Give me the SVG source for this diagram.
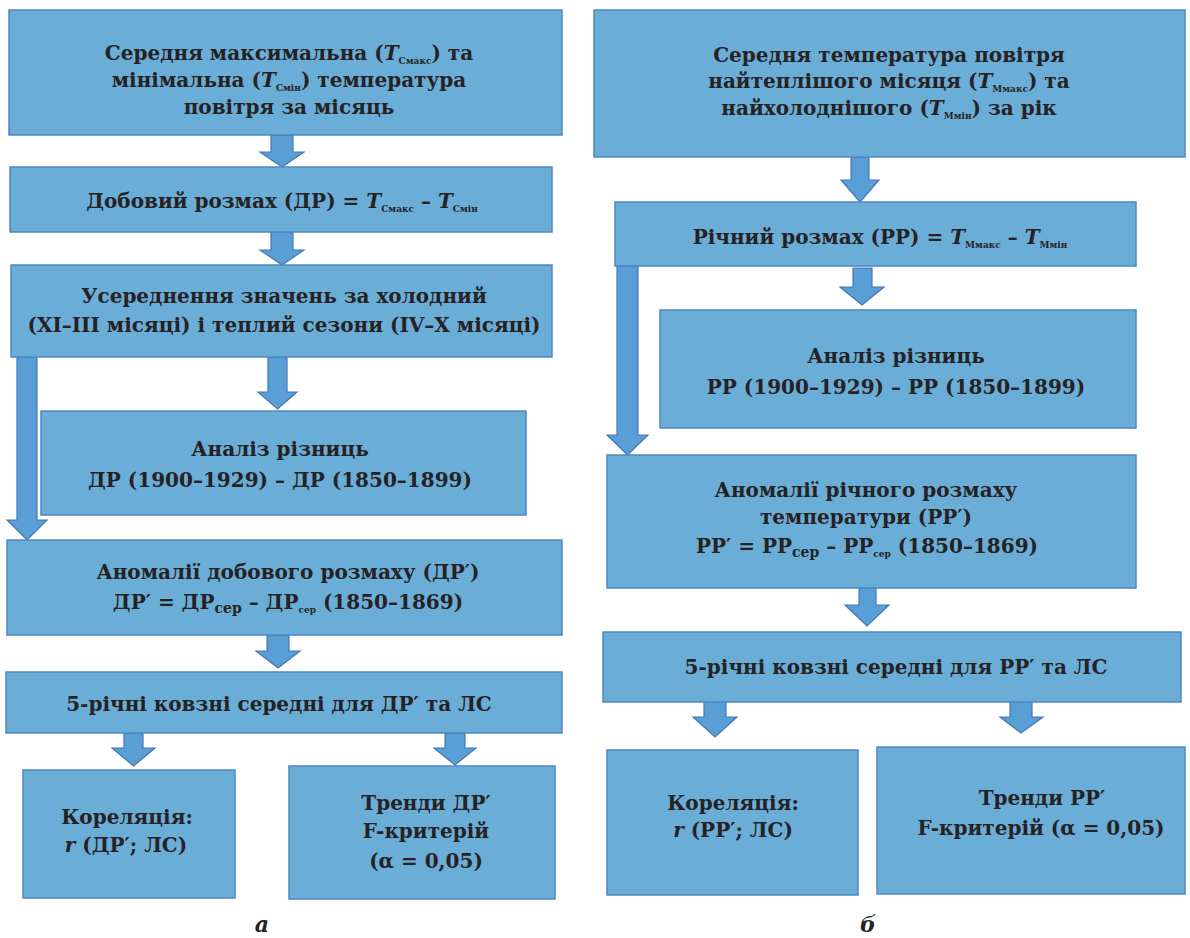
<svg xmlns="http://www.w3.org/2000/svg" width="1190" height="938" viewBox="0 0 1190 938">
<style>
.bx{fill:#6AAED8;stroke:#4F86C4;stroke-width:1.5}
.ar{fill:#5A9ED6;stroke:#4477B5;stroke-width:1.2;stroke-linejoin:miter}
.t{font-family:"DejaVu Serif","Liberation Serif",serif;font-weight:bold;font-size:20px;fill:#262224;text-anchor:middle}
.i{font-style:italic}
.s{font-size:9px}
.cap{font-family:"DejaVu Serif","Liberation Serif",serif;font-weight:bold;font-style:italic;font-size:22px;fill:#262224;text-anchor:middle}
</style>
<rect width="1190" height="938" fill="#ffffff"/>
<g id="connectors">
<polygon class="ar" points="271,135 293,135 293,152 304,152 282,167 260,152 271,152"/>
<polygon class="ar" points="271,232 293,232 293,250 304,250 282,265 260,250 271,250"/>
<polygon class="ar" points="17,357 37,357 37,520 47,520 27,540 7,520 17,520"/>
<polygon class="ar" points="268,357 287,357 287,392 297,392 277.5,409 258,392 268,392"/>
<polygon class="ar" points="267,635 289,635 289,651 300,651 278,668 256,651 267,651"/>
<polygon class="ar" points="124,733 143,733 143,748 155,748 133.5,766 112,748 124,748"/>
<polygon class="ar" points="445,733 465,733 465,748 476,748 455,765 434,748 445,748"/>
<polygon class="ar" points="851,157 869,157 869,180 879,180 860,202 841,180 851,180"/>
<polygon class="ar" points="617,266 638,266 638,435 648,435 627.5,455 607,435 617,435"/>
<polygon class="ar" points="853,268 872,268 872,287 884,287 862,305 840,287 853,287"/>
<polygon class="ar" points="859,588 876,588 876,605 889,605 867,626 845,605 859,605"/>
<polygon class="ar" points="704,702 726,702 726,717 737,717 715,737 693,717 704,717"/>
<polygon class="ar" points="1010,702 1032,702 1032,717 1043,717 1021,733 1000,717 1010,717"/>
</g>
<g id="a1">
<rect class="bx" x="9" y="10" width="553" height="125"/>
<text class="t" x="289" y="60">Середня максимальна (<tspan class="i">T</tspan><tspan class="s" dy="4">Смакс</tspan><tspan dy="-4">) та</tspan></text>
<text class="t" x="289" y="87">мінімальна (<tspan class="i">T</tspan><tspan class="s" dy="4">Смін</tspan><tspan dy="-4">) температура</tspan></text>
<text class="t" x="289" y="114">повітря за місяць</text>
</g>
<g id="a2">
<rect class="bx" x="10" y="167" width="542" height="65"/>
<text class="t" x="282" y="208">Добовий розмах (ДР) = <tspan class="i">T</tspan><tspan class="s" dy="4">Смакс</tspan><tspan dy="-4"> – </tspan><tspan class="i">T</tspan><tspan class="s" dy="4">Смін</tspan></text>
</g>
<g id="a3">
<rect class="bx" x="11" y="265" width="541" height="92"/>
<text class="t" x="284" y="303">Усереднення значень за холодний</text>
<text class="t" x="284" y="332">(XI–III місяці) і теплий сезони (IV–X місяці)</text>
</g>
<g id="a4">
<rect class="bx" x="41" y="411" width="485" height="104"/>
<text class="t" x="280" y="456">Аналіз різниць</text>
<text class="t" x="280" y="487">ДР (1900–1929) – ДР (1850–1899)</text>
</g>
<g id="a5">
<rect class="bx" x="7" y="540" width="555" height="95"/>
<text class="t" x="288" y="579">Аномалії добового розмаху (ДР′)</text>
<text class="t" x="288" y="609">ДР′ = ДР<tspan font-size="14" dy="4">сер</tspan><tspan dy="-4"> – ДР</tspan><tspan class="s" dy="4">сер</tspan><tspan dy="-4"> (1850–1869)</tspan></text>
</g>
<g id="a6">
<rect class="bx" x="6" y="672" width="556" height="61"/>
<text class="t" x="279" y="711">5-річні ковзні середні для ДР′ та ЛС</text>
</g>
<g id="a7">
<rect class="bx" x="23" y="770" width="212" height="128"/>
<text class="t" x="127" y="824">Кореляція:</text>
<text class="t" x="126" y="852"><tspan class="i">r</tspan> (ДР′; ЛС)</text>
</g>
<g id="a8">
<rect class="bx" x="289" y="766" width="266" height="133"/>
<text class="t" x="426" y="810">Тренди ДР′</text>
<text class="t" x="426" y="838">F-критерій</text>
<text class="t" x="426" y="868">(α = 0,05)</text>
</g>
<text class="cap" x="262" y="932">а</text>
<g id="b1">
<rect class="bx" x="594" y="10" width="591" height="147"/>
<text class="t" x="889" y="62">Середня температура повітря</text>
<text class="t" x="889" y="88">найтеплішого місяця (<tspan class="i">T</tspan><tspan class="s" dy="4">Ммакс</tspan><tspan dy="-4">) та</tspan></text>
<text class="t" x="889" y="115">найхолоднішого (<tspan class="i">T</tspan><tspan class="s" dy="4">Ммін</tspan><tspan dy="-4">) за рік</tspan></text>
</g>
<g id="b2">
<rect class="bx" x="615" y="202" width="521" height="64"/>
<text class="t" x="880" y="244">Річний розмах (РР) = <tspan class="i">T</tspan><tspan class="s" dy="4">Ммакс</tspan><tspan dy="-4"> – </tspan><tspan class="i">T</tspan><tspan class="s" dy="4">Ммін</tspan></text>
</g>
<g id="b3">
<rect class="bx" x="660" y="310" width="476" height="118"/>
<text class="t" x="896" y="363">Аналіз різниць</text>
<text class="t" x="896" y="394">РР (1900–1929) – РР (1850–1899)</text>
</g>
<g id="b4">
<rect class="bx" x="607" y="455" width="529" height="133"/>
<text class="t" x="866" y="497">Аномалії річного розмаху</text>
<text class="t" x="866" y="524">температури (РР′)</text>
<text class="t" x="867" y="553">РР′ = РР<tspan font-size="14" dy="4">сер</tspan><tspan dy="-4"> – РР</tspan><tspan class="s" dy="4">сер</tspan><tspan dy="-4"> (1850–1869)</tspan></text>
</g>
<g id="b5">
<rect class="bx" x="603" y="632" width="578" height="70"/>
<text class="t" x="896" y="674">5-річні ковзні середні для РР′ та ЛС</text>
</g>
<g id="b6">
<rect class="bx" x="607" y="750" width="251" height="145"/>
<text class="t" x="733" y="810">Кореляція:</text>
<text class="t" x="733" y="837"><tspan class="i">r</tspan> (РР′; ЛС)</text>
</g>
<g id="b7">
<rect class="bx" x="877" y="747" width="308" height="147"/>
<text class="t" x="1042" y="805">Тренди РР′</text>
<text class="t" x="1041" y="835">F-критерій (α = 0,05)</text>
</g>
<text class="cap" x="868" y="932">б</text>
</svg>
